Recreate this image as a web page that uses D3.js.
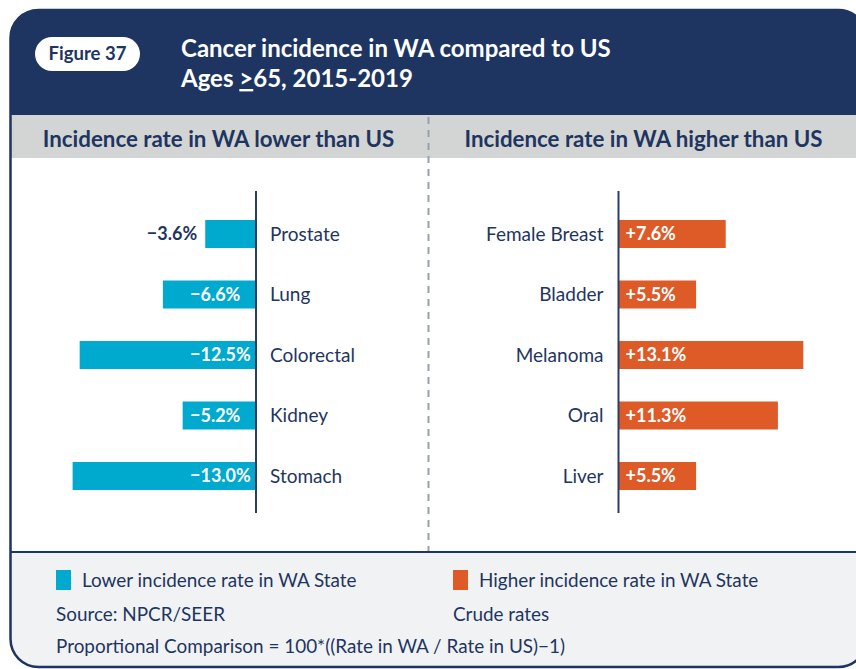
<!DOCTYPE html>
<html>
<head>
<meta charset="utf-8">
<script src="https://cdn.jsdelivr.net/npm/d3@7"></script>
<style>
  html, body { margin: 0; padding: 0; background: #ffffff; }
  svg { display: block; font-family: Lato, "Open Sans", sans-serif; }
</style>
</head>
<body>
<div id="chart"></div>
<script>
// Cancers where WA incidence is lower than the US (percent difference)
const lowerCategories = ["Prostate", "Lung", "Colorectal", "Kidney", "Stomach"];
const lowerValues = [-3.6, -6.6, -12.5, -5.2, -13.0];

// Cancers where WA incidence is higher than the US (percent difference)
const higherCategories = ["Female Breast", "Bladder", "Melanoma", "Oral", "Liver"];
const higherValues = [7.6, 5.5, 13.1, 11.3, 5.5];

const legendLabels = ["Lower incidence rate in WA State", "Higher incidence rate in WA State"];
const notes = ["Source: NPCR/SEER", "Crude rates", "Proportional Comparison = 100*((Rate in WA / Rate in US)\u22121)"];

const W = 856, H = 669;
const navy = "#1e3561";
const cyan = "#00a9ce";
const orange = "#de5a27";
const bandGrey = "#d3d4d4";
const footGrey = "#f1f2f4";

const svg = d3.select("#chart").append("svg")
  .attr("width", W).attr("height", H);

// Card outline and clip
const card = { x: 10.5, y: 10, w: 856, h: 657, r: 28 };
svg.append("clipPath").attr("id", "cardClip")
  .append("rect")
  .attr("x", card.x).attr("y", card.y)
  .attr("width", card.w).attr("height", card.h)
  .attr("rx", card.r);

const inner = svg.append("g").attr("clip-path", "url(#cardClip)");
inner.append("rect").attr("x", 0).attr("y", 0).attr("width", W).attr("height", 115).attr("fill", navy);
inner.append("rect").attr("x", 0).attr("y", 115).attr("width", W).attr("height", 43).attr("fill", bandGrey);
inner.append("rect").attr("x", 0).attr("y", 158).attr("width", W).attr("height", 394).attr("fill", "#ffffff");
inner.append("rect").attr("x", 0).attr("y", 552).attr("width", W).attr("height", 120).attr("fill", footGrey);
inner.append("line").attr("x1", 0).attr("x2", W).attr("y1", 552).attr("y2", 552)
  .attr("stroke", navy).attr("stroke-width", 2.2);

// Dashed divider between the two panels
inner.append("line").attr("x1", 428.5).attr("x2", 428.5).attr("y1", 117).attr("y2", 551)
  .attr("stroke", "#97a0b3").attr("stroke-width", 2).attr("stroke-dasharray", "7,6");

svg.append("rect")
  .attr("x", card.x).attr("y", card.y)
  .attr("width", card.w).attr("height", card.h)
  .attr("rx", card.r)
  .attr("fill", "none").attr("stroke", navy).attr("stroke-width", 2.5);

// Figure badge
svg.append("rect").attr("x", 35).attr("y", 37).attr("width", 105).attr("height", 34)
  .attr("rx", 17).attr("fill", "#ffffff");
svg.append("text").attr("x", 87.5).attr("y", 60).attr("text-anchor", "middle")
  .attr("font-size", 18.5).attr("font-weight", 700).attr("fill", navy).text("Figure 37");

// Title
svg.append("text").attr("x", 181).attr("y", 57)
  .attr("font-size", 24).attr("font-weight", 700).attr("fill", "#ffffff")
  .text("Cancer incidence in WA compared to US");
const t2 = svg.append("text").attr("x", 181).attr("y", 87)
  .attr("font-size", 24).attr("font-weight", 700).attr("fill", "#ffffff");
t2.append("tspan").text("Ages ");
t2.append("tspan").style("text-decoration", "underline").text(">");
t2.append("tspan").text("65, 2015-2019");

// Panel headings
svg.append("text").attr("x", 218.5).attr("y", 147).attr("text-anchor", "middle")
  .attr("font-size", 22.3).attr("font-weight", 700).attr("fill", navy)
  .text("Incidence rate in WA lower than US");
svg.append("text").attr("x", 643.5).attr("y", 147).attr("text-anchor", "middle")
  .attr("font-size", 22.3).attr("font-weight", 700).attr("fill", navy)
  .text("Incidence rate in WA higher than US");

// Scales shared by both panels
const xLen = d3.scaleLinear().domain([0, 14]).range([0, 197.5]);
const barH = 28;
const yLeft = d3.scalePoint().domain(lowerCategories).range([234, 476]);
const yRight = d3.scalePoint().domain(higherCategories).range([234, 476]);

const fmt = v => (v < 0 ? "\u2212" : "+") + d3.format(".1f")(Math.abs(v)) + "%";

// Left panel: bars grow leftward from the axis
const axL = 256;
const left = svg.append("g");
const lowerData = lowerCategories.map((c, i) => ({ c, v: lowerValues[i] }));
left.selectAll("rect.bar").data(lowerData).join("rect")
  .attr("class", "bar")
  .attr("x", d => axL - xLen(Math.abs(d.v)))
  .attr("y", d => yLeft(d.c) - barH / 2)
  .attr("width", d => xLen(Math.abs(d.v)))
  .attr("height", barH)
  .attr("fill", cyan);
left.selectAll("text.val").data(lowerData).join("text")
  .attr("class", "val")
  .attr("x", d => xLen(Math.abs(d.v)) > 70 ? axL - 66 : axL - xLen(Math.abs(d.v)) - 8)
  .attr("y", d => yLeft(d.c))
  .attr("dy", "0.36em")
  .attr("text-anchor", d => xLen(Math.abs(d.v)) > 70 ? "start" : "end")
  .attr("font-size", 18).attr("font-weight", 700)
  .attr("fill", d => xLen(Math.abs(d.v)) > 70 ? "#ffffff" : navy)
  .text(d => fmt(d.v));
left.selectAll("text.cat").data(lowerData).join("text")
  .attr("class", "cat")
  .attr("x", axL + 14)
  .attr("y", d => yLeft(d.c))
  .attr("dy", "0.36em")
  .attr("font-size", 19).attr("fill", navy)
  .text(d => d.c);
left.append("line").attr("x1", axL).attr("x2", axL).attr("y1", 191).attr("y2", 513)
  .attr("stroke", "#2b3d69").attr("stroke-width", 2);

// Right panel: bars grow rightward from the axis
const axR = 618.5;
const right = svg.append("g");
const higherData = higherCategories.map((c, i) => ({ c, v: higherValues[i] }));
right.selectAll("rect.bar").data(higherData).join("rect")
  .attr("class", "bar")
  .attr("x", axR)
  .attr("y", d => yRight(d.c) - barH / 2)
  .attr("width", d => xLen(d.v))
  .attr("height", barH)
  .attr("fill", orange);
right.selectAll("text.val").data(higherData).join("text")
  .attr("class", "val")
  .attr("x", axR + 7)
  .attr("y", d => yRight(d.c))
  .attr("dy", "0.36em")
  .attr("font-size", 18).attr("font-weight", 700).attr("fill", "#ffffff")
  .text(d => fmt(d.v));
right.selectAll("text.cat").data(higherData).join("text")
  .attr("class", "cat")
  .attr("x", axR - 15)
  .attr("y", d => yRight(d.c))
  .attr("dy", "0.36em")
  .attr("text-anchor", "end")
  .attr("font-size", 19).attr("fill", navy)
  .text(d => d.c);
right.append("line").attr("x1", axR).attr("x2", axR).attr("y1", 191).attr("y2", 513)
  .attr("stroke", "#2b3d69").attr("stroke-width", 2);

// Legend and notes
const legend = svg.append("g");
[[56, cyan], [453, orange]].forEach(([x, col], i) => {
  legend.append("rect").attr("x", x).attr("y", 570).attr("width", 15).attr("height", 20).attr("fill", col);
  legend.append("text").attr("x", x + 26).attr("y", 587)
    .attr("font-size", 18.9).attr("fill", navy).text(legendLabels[i]);
});
legend.append("text").attr("x", 56).attr("y", 621).attr("font-size", 18.9).attr("fill", navy).text(notes[0]);
legend.append("text").attr("x", 453).attr("y", 621).attr("font-size", 18.9).attr("fill", navy).text(notes[1]);
legend.append("text").attr("x", 56).attr("y", 653).attr("font-size", 18.9).attr("fill", navy).text(notes[2]);
</script>
</body>
</html>
